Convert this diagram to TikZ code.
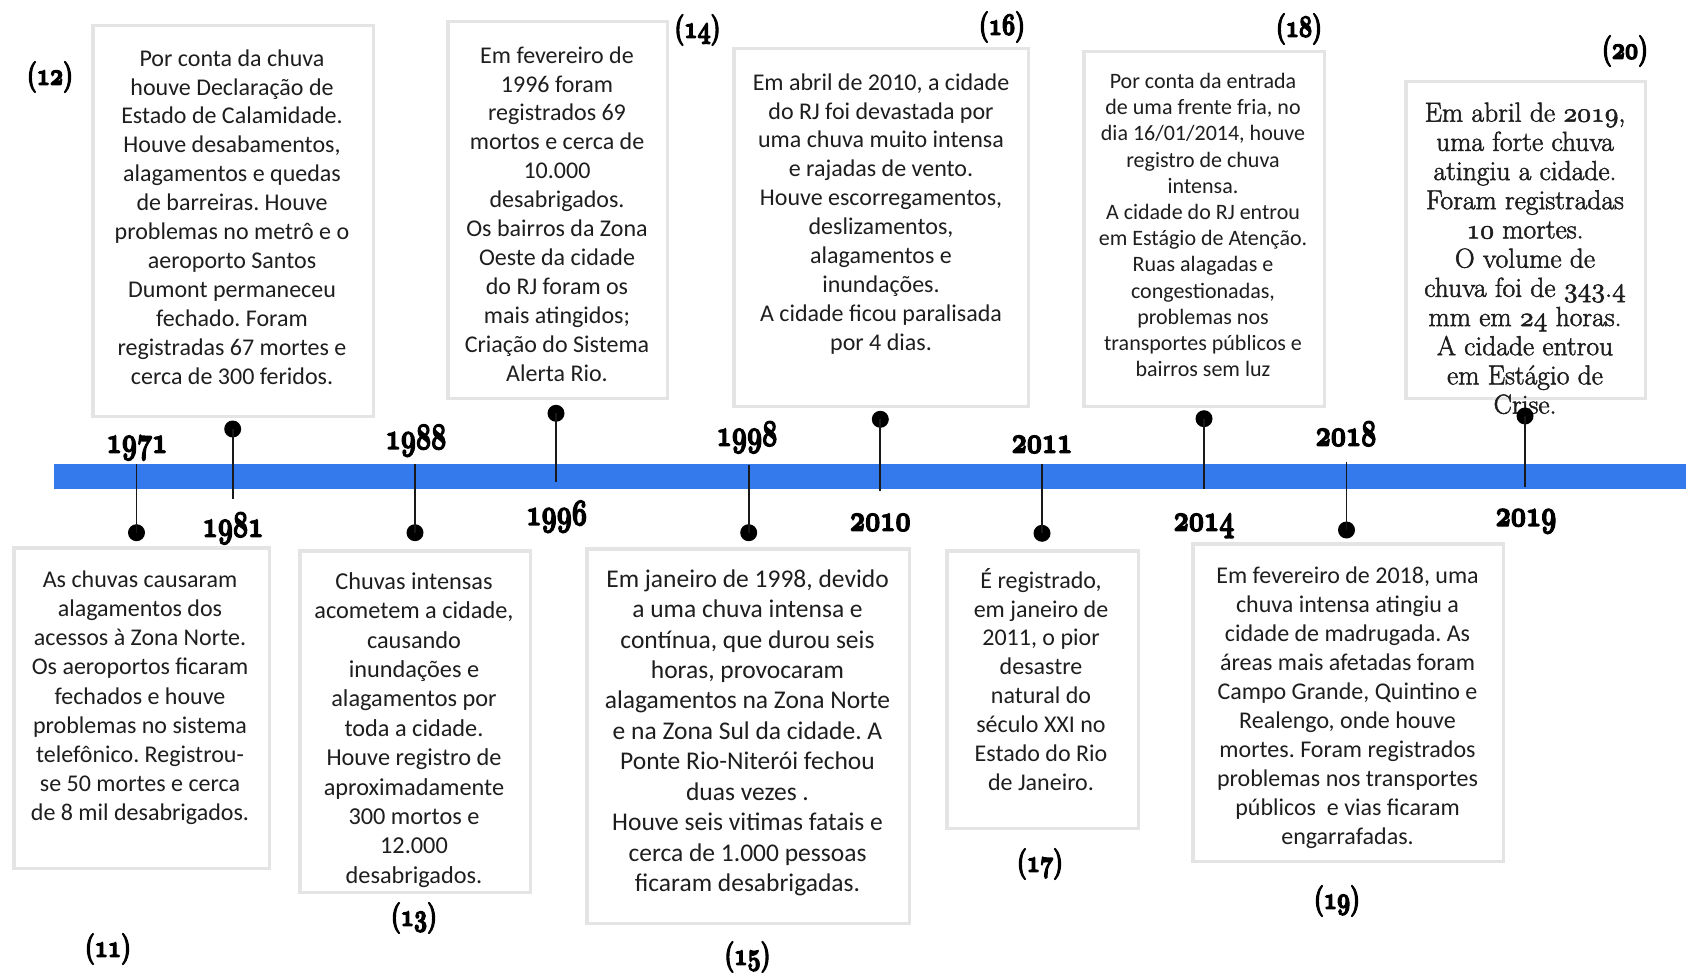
\documentclass[tikz,border=0pt]{standalone}
\usepackage{fontspec}
\usepackage{graphicx}
\newfontfamily\bodyfont{Carlito}
\newfontfamily\serifbody{Latin Modern Roman}
% old-style figures from the Computer Modern math italic fonts, at any size
\DeclareFontFamily{OML}{osfdig}{}
\DeclareFontShape{OML}{osfdig}{b}{n}{<-> cmmib10}{}
\DeclareFontShape{OML}{osfdig}{m}{n}{<-> cmmi10}{}
\newcommand\osfbold[1]{{\usefont{OML}{osfdig}{b}{n}#1}}
\newcommand\osfreg[1]{{\usefont{OML}{osfdig}{m}{n}#1}}
% heavier glyphs: fill and stroke the outlines
\newcommand\heavy[2]{\special{pdf:literal direct 2 Tr #1 w}#2\special{pdf:literal direct 0 Tr}}
\newcommand\yearnum[1]{\scalebox{0.8}[1.12]{\heavy{1.3}{\osfbold{#1}}}}
\newcommand\refnum[1]{\scalebox{0.88}[1.18]{\heavy{1.2}{\textbf{(}\osfbold{#1}\textbf{)}}}}

\definecolor{barblue}{RGB}{52,122,236}
\definecolor{boxgray}{RGB}{228,228,228}
\definecolor{inkgray}{RGB}{30,30,30}

\begin{document}
\frenchspacing
\begin{tikzpicture}[x=1pt,y=-1pt,
  evbox/.style={draw=boxgray, line width=3.5pt, fill=white, inner sep=0pt, outer sep=0pt},
  evtext/.style={anchor=north, align=center, inner sep=0pt, text=inkgray,
                 font=\bodyfont\frenchspacing\fontsize{24}{28.9}\selectfont},
  yearlbl/.style={anchor=base, inner sep=0pt, font=\rmfamily\fontsize{33}{33}\selectfont},
  reflbl/.style={inner sep=0pt, font=\rmfamily\fontsize{26}{26}\selectfont},
  pinline/.style={draw=black!90, line width=1.8pt},
  pindot/.style={circle, fill=black, inner sep=0pt, minimum size=17pt}
]
\useasboundingbox (0,0) rectangle (1686,973);
\fill[white] (0,0) rectangle (1686,973);

% the time axis
\fill[barblue] (54,464) rectangle (1686,489);

% event boxes above the axis
\node[evbox, minimum width=280.5pt, minimum height=390.5pt] (b12) at (233,221) {};
\node[evbox, minimum width=219.5pt, minimum height=376.5pt] (b14) at (557.5,210) {};
\node[evbox, minimum width=294.5pt, minimum height=357.5pt] (b16) at (881,227.5) {};
\node[evbox, minimum width=240.5pt, minimum height=354.5pt] (b18) at (1204,229) {};
\node[evbox, minimum width=239.5pt, minimum height=316.5pt] (b20) at (1525.5,240) {};
% event boxes below the axis
\node[evbox, minimum width=255.5pt, minimum height=320.5pt] (b11) at (141.5,708) {};
\node[evbox, minimum width=230.5pt, minimum height=341.5pt] (b13) at (415,721.5) {};
\node[evbox, minimum width=322.5pt, minimum height=374.5pt] (b15) at (748,736) {};
\node[evbox, minimum width=191.5pt, minimum height=277.5pt] (b17) at (1042.5,689.5) {};
\node[evbox, minimum width=310.5pt, minimum height=317.5pt] (b19) at (1348,702.5) {};

% texts of the events
\node[evtext] (t12) at (232,45.7) {\strut Por conta da chuva\\houve Declaração de\\Estado de Calamidade.\\Houve desabamentos,\\alagamentos e quedas\\de barreiras. Houve\\problemas no metrô e o\\aeroporto Santos\\Dumont permaneceu\\fechado. Foram\\registradas 67 mortes e\\cerca de 300 feridos.};
\node[evtext] (t14) at (557,42.7) {\strut Em fevereiro de\\1996 foram\\registrados 69\\mortos e cerca de\\10.000\\desabrigados.\\Os bairros da Zona\\Oeste da cidade\\do RJ foram os\\mais atingidos;\\Criação do Sistema\\Alerta Rio.};
\node[evtext] (t16) at (881,69.7) {\strut Em abril de 2010, a cidade\\do RJ foi devastada por\\uma chuva muito intensa\\e rajadas de vento.\\Houve escorregamentos,\\deslizamentos,\\alagamentos e\\inundações.\\A cidade ficou paralisada\\por 4 dias.};
\node[evtext, font=\bodyfont\fontsize{22}{26.2}\selectfont] (t18) at (1203,70) {\strut Por conta da entrada\\de uma frente fria, no\\dia 16/01/2014, houve\\registro de chuva\\intensa.\\A cidade do RJ entrou\\em Estágio de Atenção.\\Ruas alagadas e\\congestionadas,\\problemas nos\\transportes públicos e\\bairros sem luz};
\node[evtext, font=\serifbody\fontsize{27.5}{29.2}\selectfont] (t20) at (1525,101) {\heavy{0.5}{\strut Em abril de \osfreg{2019},\\uma forte chuva\\atingiu a cidade.\\Foram registradas\\\osfreg{10} mortes.\\O volume de\\chuva foi de \osfreg{343}.\osfreg{4}\\mm em \osfreg{24} horas.\\A cidade entrou\\em Estágio de\\Crise.}};
\node[evtext, font=\bodyfont\fontsize{24}{29.2}\selectfont] (t11) at (140,566.7) {\strut As chuvas causaram\\alagamentos dos\\acessos à Zona Norte.\\Os aeroportos ficaram\\fechados e houve\\problemas no sistema\\telefônico. Registrou-\\se 50 mortes e cerca\\de 8 mil desabrigados.};
\node[evtext, font=\bodyfont\fontsize{24.3}{29.4}\selectfont] (t13) at (414,568.5) {\strut Chuvas intensas\\acometem a cidade,\\causando\\inundações e\\alagamentos por\\toda a cidade.\\Houve registro de\\aproximadamente\\300 mortos e\\12.000\\desabrigados.};
\node[evtext, font=\bodyfont\fontsize{25.5}{30.45}\selectfont] (t15) at (747.5,565.6) {\strut Em janeiro de 1998, devido\\a uma chuva intensa e\\contínua, que durou seis\\horas, provocaram\\alagamentos na Zona Norte\\e na Zona Sul da cidade. A\\Ponte Rio-Niterói fechou\\duas vezes .\\Houve seis vitimas fatais e\\cerca de 1.000 pessoas\\ficaram desabrigadas.};
\node[evtext] (t17) at (1041,567.7) {\strut É registrado,\\em janeiro de\\2011, o pior\\desastre\\natural do\\século XXI no\\Estado do Rio\\de Janeiro.};
\node[evtext, font=\bodyfont\fontsize{24}{29}\selectfont] (t19) at (1347.5,563.1) {\strut Em fevereiro de 2018, uma\\chuva intensa atingiu a\\cidade de madrugada. As\\áreas mais afetadas foram\\Campo Grande, Quintino e\\Realengo, onde houve\\mortes. Foram registrados\\problemas nos transportes\\públicos\ \ e vias ficaram\\engarrafadas.};

% pins with the dot above the axis
\coordinate (e1981) at (232.7,498.7);
\coordinate (e1996) at (556,482.3);
\coordinate (e2010) at (880.3,490.7);
\coordinate (e2014) at (1204,489.3);
\coordinate (e2019) at (1525,487.3);
\node[pindot] (d1981) at (232.7,429) {};
\node[pindot] (d1996) at (556,413.3) {};
\node[pindot] (d2010) at (880.3,419.3) {};
\node[pindot] (d2014) at (1204,418.7) {};
\node[pindot] (d2019) at (1525,416) {};
\draw[pinline] (d1981.center) -- (e1981);
\draw[pinline] (d1996.center) -- (e1996);
\draw[pinline] (d2010.center) -- (e2010);
\draw[pinline] (d2014.center) -- (e2014);
\draw[pinline] (d2019.center) -- (e2019);

% pins with the dot below the axis
\coordinate (s1971) at (136.5,464);
\coordinate (s1988) at (415,464);
\coordinate (s1998) at (748.7,465);
\coordinate (s2011) at (1042,464);
\coordinate (s2018) at (1346.5,461.7);
\node[pindot] (d1971) at (136.5,532.7) {};
\node[pindot] (d1988) at (415,532.7) {};
\node[pindot] (d1998) at (748.7,532.7) {};
\node[pindot] (d2011) at (1042,533.3) {};
\node[pindot] (d2018) at (1346.5,530) {};
\draw[pinline] (s1971) -- (d1971.center);
\draw[pinline] (s1988) -- (d1988.center);
\draw[pinline] (s1998) -- (d1998.center);
\draw[pinline] (s2011) -- (d2011.center);
\draw[pinline] (s2018) -- (d2018.center);

% years
\node[yearlbl] (y1971) at (137,452.7) {\yearnum{1971}};
\node[yearlbl] (y1981) at (233,536.7) {\yearnum{1981}};
\node[yearlbl] (y1988) at (416,449) {\yearnum{1988}};
\node[yearlbl] (y1996) at (556.7,525) {\yearnum{1996}};
\node[yearlbl] (y1998) at (747,445.7) {\yearnum{1998}};
\node[yearlbl] (y2010) at (880.3,530.7) {\yearnum{2010}};
\node[yearlbl] (y2011) at (1042,452.7) {\yearnum{2011}};
\node[yearlbl] (y2014) at (1204,530.7) {\yearnum{2014}};
\node[yearlbl] (y2018) at (1346,445.7) {\yearnum{2018}};
\node[yearlbl] (y2019) at (1526,526) {\yearnum{2019}};

% reference numbers
\node[reflbl] (r11) at (108,949) {\refnum{11}};
\node[reflbl] (r12) at (50,77) {\refnum{12}};
\node[reflbl] (r13) at (414,918) {\refnum{13}};
\node[reflbl] (r14) at (697.5,30) {\refnum{14}};
\node[reflbl] (r15) at (747.5,957) {\refnum{15}};
\node[reflbl] (r16) at (1002,27) {\refnum{16}};
\node[reflbl] (r17) at (1040,864) {\refnum{17}};
\node[reflbl] (r18) at (1299,29) {\refnum{18}};
\node[reflbl] (r19) at (1337,901) {\refnum{19}};
\node[reflbl] (r20) at (1625,51) {\refnum{20}};
\end{tikzpicture}
\end{document}
